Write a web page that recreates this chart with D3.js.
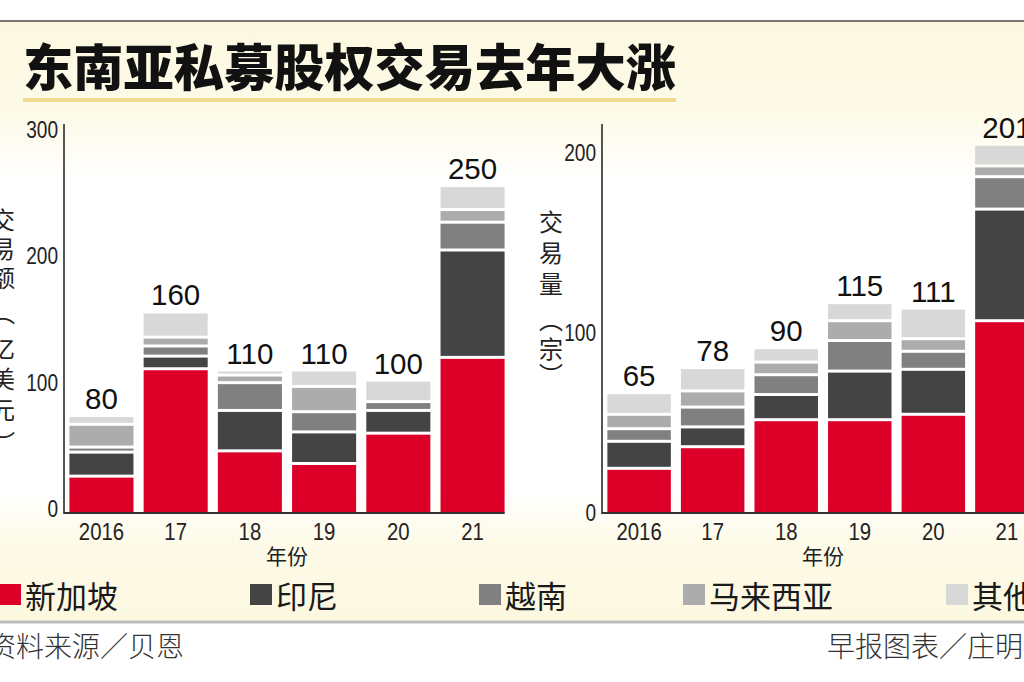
<!DOCTYPE html>
<html>
<head>
<meta charset="utf-8">
<script src="https://cdn.jsdelivr.net/npm/d3@7"></script>
<style>
  html, body { margin: 0; padding: 0; background: #fff; }
  svg { display: block; }
  .cjk { font-family: "Noto Sans CJK SC", sans-serif; }
  .num { font-family: "Liberation Sans", Arial, sans-serif; }
  .val { font-family: "Liberation Sans", Arial, sans-serif; }
</style>
</head>
<body>
<div id="chart"></div>
<script>
// categories
const years = ["2016", "17", "18", "19", "20", "21"];
const countries = ["新加坡", "印尼", "越南", "马来西亚", "其他"];

// 交易额（亿美元）
const valueSingapore = [28, 113, 48, 38, 62, 122];
const valueIndonesia = [19, 10, 32, 25, 18, 85];
const valueVietnam   = [4, 8, 22, 16, 7, 22];
const valueMalaysia  = [18, 7, 6, 20, 0, 10];
const valueOther     = [7, 20, 4, 13, 17, 19];
const valueTotals    = [80, 160, 110, 110, 100, 250];
const valueTicks     = [0, 100, 200, 300];

// 交易量（宗）
const dealSingapore = [24, 36, 51, 51, 54, 106];
const dealIndonesia = [15, 11, 14, 27, 25, 62];
const dealVietnam   = [7, 11, 11, 17, 10, 18];
const dealMalaysia  = [8, 9, 7, 11, 7, 6];
const dealOther     = [12, 13, 8, 10, 17, 12];
const dealTotals    = [65, 78, 90, 115, 111, 201];
const dealTicks     = [0, 100, 200];

const colors = ["#dc0029", "#444444", "#808080", "#acacac", "#d8d8d8"];

const W = 1024, H = 682;
const svg = d3.select("#chart").append("svg")
  .attr("width", W).attr("height", H);

// background: cream panel fading to white in the middle
const grad = svg.append("defs").append("linearGradient")
  .attr("id", "bg").attr("gradientUnits", "userSpaceOnUse")
  .attr("x1", 0).attr("y1", 22).attr("x2", 0).attr("y2", 622);
[[0, "#fcf8e0"], [0.15, "#fdfae8"], [0.27, "#ffffff"], [0.78, "#ffffff"], [0.87, "#fdfae8"], [1, "#fcf8e0"]]
  .forEach(s => grad.append("stop").attr("offset", s[0]).attr("stop-color", s[1]));

svg.append("rect").attr("x", 0).attr("y", 22).attr("width", W).attr("height", 600)
  .attr("fill", "url(#bg)");
svg.append("line").attr("x1", 0).attr("x2", W).attr("y1", 21).attr("y2", 21)
  .attr("stroke", "#4a4a4a").attr("stroke-width", 1.5);
svg.append("line").attr("x1", 0).attr("x2", W).attr("y1", 622).attr("y2", 622)
  .attr("stroke", "#bdbdbd").attr("stroke-width", 3);

// title
svg.append("text").attr("class", "cjk")
  .attr("x", 23).attr("y", 64)
  .attr("dominant-baseline", "central")
  .attr("font-size", 50).attr("font-weight", 900).attr("fill", "#111")
  .attr("textLength", 653).attr("lengthAdjust", "spacingAndGlyphs")
  .text("东南亚私募股权交易去年大涨");
svg.append("line").attr("x1", 23).attr("x2", 676).attr("y1", 100).attr("y2", 100)
  .attr("stroke", "#f1d98e").attr("stroke-width", 4);

function buildTable(series) {
  return years.map((y, i) => {
    const row = { year: y };
    countries.forEach((c, k) => { row[c] = series[k][i]; });
    return row;
  });
}

function drawChart(cfg) {
  const g = svg.append("g");
  const table = buildTable(cfg.series);
  const stacked = d3.stack().keys(countries)(table);

  const x = d3.scaleBand().domain(years).range(cfg.xRange)
    .paddingInner(0.137).paddingOuter(0.073);
  const y = d3.scaleLinear().domain(cfg.yDomain).range(cfg.yRange);
  const x0 = cfg.xRange[0];
  const base = y(0);

  // bars
  stacked.forEach((layer, k) => {
    g.selectAll(null).data(layer).enter().append("rect")
      .attr("x", d => x(d.data.year))
      .attr("width", x.bandwidth())
      .attr("y", d => y(d[1]))
      .attr("height", d => Math.max(0, y(d[0]) - y(d[1]) - (d[0] > 0 ? 3 : 0)))
      .attr("fill", colors[k]);
  });

  // total labels above bars
  const tops = table.map(r => d3.sum(countries, c => r[c]));
  g.selectAll(null).data(years).enter().append("text")
    .attr("class", "val")
    .attr("x", d => x(d) + x.bandwidth() / 2)
    .attr("y", (d, i) => y(tops[i]) - 8)
    .attr("text-anchor", "middle")
    .attr("font-size", 29.5).attr("fill", "#111")
    .text((d, i) => cfg.totals[i]);

  // axes
  g.append("line").attr("x1", x0).attr("x2", x0)
    .attr("y1", cfg.axisTop).attr("y2", base + 1)
    .attr("stroke", "#555").attr("stroke-width", 2);
  g.append("line").attr("x1", x0).attr("x2", x(years[years.length - 1]) + x.bandwidth())
    .attr("y1", base).attr("y2", base)
    .attr("stroke", "#333").attr("stroke-width", 2);

  // condensed digits
  g.selectAll(null).data(cfg.ticks).enter().append("text")
    .attr("class", "num")
    .attr("x", x0 - 6)
    .attr("y", d => y(d) + cfg.tickDy)
    .attr("text-anchor", "end").attr("dominant-baseline", "central")
    .attr("font-size", 23).attr("fill", "#222")
    .attr("textLength", d => String(d).length * 10.6)
    .attr("lengthAdjust", "spacingAndGlyphs")
    .text(d => d);

  g.selectAll(null).data(years).enter().append("text")
    .attr("class", "num")
    .attr("x", d => x(d) + x.bandwidth() / 2)
    .attr("y", 531)
    .attr("text-anchor", "middle").attr("dominant-baseline", "central")
    .attr("font-size", 24).attr("fill", "#222")
    .attr("textLength", d => d.length * 11.3)
    .attr("lengthAdjust", "spacingAndGlyphs")
    .text(d => d);

  g.append("text").attr("class", "cjk")
    .attr("x", (cfg.xRange[0] + cfg.xRange[1]) / 2).attr("y", 555)
    .attr("text-anchor", "middle").attr("dominant-baseline", "central")
    .attr("font-size", 21).attr("fill", "#222")
    .text("年份");

  // vertical axis title
  g.selectAll(null).data(cfg.title).enter().append("text")
    .attr("class", "cjk")
    .attr("x", cfg.titleX)
    .attr("y", d => d[1])
    .attr("text-anchor", "middle").attr("dominant-baseline", "central")
    .attr("font-size", 24).attr("fill", "#222")
    .text(d => d[0]);
}

drawChart({
  series: [valueSingapore, valueIndonesia, valueVietnam, valueMalaysia, valueOther],
  totals: valueTotals,
  ticks: valueTicks,
  xRange: [64, 510],
  yDomain: [0, 300],
  yRange: [513, 134],
  axisTop: 124,
  tickDy: -4,
  titleX: 3,
  title: [["交", 218], ["易", 247], ["额", 276], ["︵", 311], ["亿", 347], ["美", 377], ["元", 408], ["︶", 441]]
});

drawChart({
  series: [dealSingapore, dealIndonesia, dealVietnam, dealMalaysia, dealOther],
  totals: dealTotals,
  ticks: dealTicks,
  xRange: [602, 1044],
  yDomain: [0, 200],
  yRange: [513, 153],
  axisTop: 124,
  tickDy: 0,
  titleX: 551,
  title: [["交", 220], ["易", 251], ["量", 282], ["︵", 318], ["宗", 347], ["︶", 373]]
});

// legend
const legendX = [-1, 250, 479, 683, 946];
const legend = svg.append("g").selectAll(null).data(countries).enter().append("g")
  .attr("transform", (d, i) => `translate(${legendX[i]},0)`);
legend.append("rect").attr("x", 0).attr("y", 584).attr("width", 22).attr("height", 21)
  .attr("fill", (d, i) => colors[i]);
legend.append("text").attr("class", "cjk")
  .attr("x", 26).attr("y", 594)
  .attr("dominant-baseline", "central")
  .attr("font-size", 31).attr("fill", "#1a1a1a")
  .text(d => d);

// footer
svg.append("text").attr("class", "cjk")
  .attr("x", -12).attr("y", 645).attr("dominant-baseline", "central")
  .attr("font-size", 28).attr("font-weight", 300).attr("fill", "#333")
  .text("资料来源／贝恩");
svg.append("text").attr("class", "cjk")
  .attr("x", 827).attr("y", 645).attr("dominant-baseline", "central")
  .attr("font-size", 28).attr("font-weight", 300).attr("fill", "#333")
  .text("早报图表／庄明");
</script>
</body>
</html>
